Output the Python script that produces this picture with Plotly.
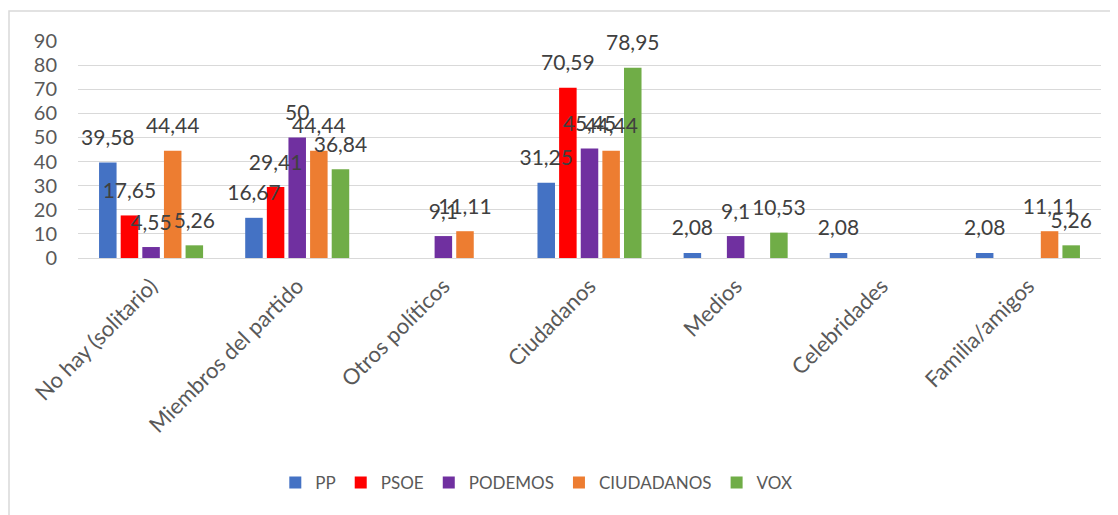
import plotly.graph_objects as go

categories = ["No hay (solitario)", "Miembros del partido", "Otros políticos",
              "Ciudadanos", "Medios", "Celebridades", "Familia/amigos"]

pp = [39.58, 16.67, None, 31.25, 2.08, 2.08, 2.08]
psoe = [17.65, 29.41, None, 70.59, None, None, None]
podemos = [4.55, 50, 9.1, 45.45, 9.1, None, None]
ciudadanos = [44.44, 44.44, 11.11, 44.44, None, None, 11.11]
vox = [5.26, 36.84, None, 78.95, 10.53, None, 5.26]

series = [("PP", pp, "#4472C4"), ("PSOE", psoe, "#FF0000"),
          ("PODEMOS", podemos, "#7030A0"), ("CIUDADANOS", ciudadanos, "#ED7D31"),
          ("VOX", vox, "#70AD47")]

y_ticks = [0, 10, 20, 30, 40, 50, 60, 70, 80, 90]

FONT = "Lato"
TXT = "#404040"
AX = "#595959"


def fmt(v):
    if v is None:
        return None
    return ("%g" % v).replace(".", ",")


fig = go.Figure()
for name, vals, col in series:
    fig.add_trace(go.Bar(name=name, x=categories, y=vals, marker_color=col,
                         marker_line_width=0, hoverinfo="skip"))
for name, vals, col in series:
    fig.add_trace(go.Scatter(x=categories, y=vals, mode="markers+text",
                             text=[fmt(v) for v in vals], textposition="top center",
                             textfont=dict(family=FONT, size=21, color=TXT),
                             marker=dict(size=18, opacity=0, color=col),
                             showlegend=False, hoverinfo="skip", cliponaxis=False))

# page body adds an 8px offset; figure coordinates are reduced accordingly
fig.update_layout(
    width=1110, height=507,
    barmode="group", bargap=0.26, bargroupgap=0.19,
    scattermode="group", scattergap=0.26,
    plot_bgcolor="white", paper_bgcolor="white",
    margin=dict(l=70, r=17, t=33, b=257),
    font=dict(family=FONT, color=AX),
    showlegend=True,
    legend=dict(orientation="h", x=0.448, xanchor="center", y=-1.037, yanchor="middle",
                font=dict(family=FONT, size=17, color=AX), itemwidth=30,
                traceorder="normal"),
    xaxis=dict(tickangle=-45, tickfont=dict(family=FONT, size=22, color=AX),
               showgrid=False, showline=False, ticks="", ticklabelstandoff=10),
    yaxis=dict(range=[0, 90], tickvals=y_ticks, tickfont=dict(family=FONT, size=20, color=AX),
               showgrid=True, gridcolor="#D9D9D9", gridwidth=1, zeroline=True,
               zerolinecolor="#D9D9D9", zerolinewidth=1, ticks="", ticklabelstandoff=20),
    shapes=[dict(type="rect", xref="paper", yref="paper",
                 x0=(1 - 70) / 1023, x1=1.2, y0=-1.5, y1=(250 - 3) / 217,
                 line=dict(color="#D9D9D9", width=1.5), fillcolor="rgba(0,0,0,0)", layer="below")],
)

fig.write_html("out.html")
